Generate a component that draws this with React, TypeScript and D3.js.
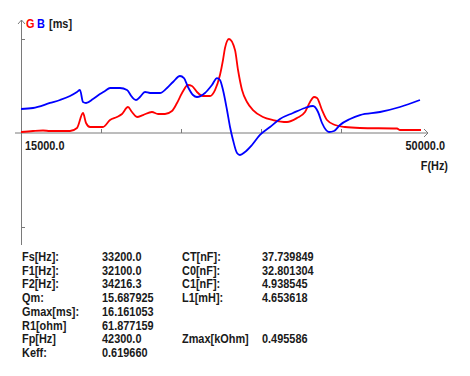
import React from "react";
import * as d3 from "d3";

const redFreq = [15000,16050,16925,17540,19290,19900,20425,20690,21040,22175,22790,23400,23840,24360,24710,25150,25675,26460,26990,27600,28210,28650,29090,29610,29960,30400,30925,31540,31975,32410,32675,32850,33200,33725,33990,34340,34775,35300,36175,37050,38275,39150,39850,40290,40640,40900,41340,41775,42475,43350,44660,47900,48160,50000];
const redG = [0.17,0.34,0.43,0.34,0.34,0.86,3.44,1.72,1.03,1.03,2.23,2.75,3.27,4.47,3.61,2.75,3.09,3.61,3.27,3.27,3.78,5.16,6.88,8.25,8.08,7.05,6.36,6.36,7.39,9.97,12.55,14.61,16.16,14.27,10.83,7.39,5.33,3.95,2.75,2.23,1.89,2.58,3.61,5.33,6.19,6.02,3.95,2.23,1.38,1.03,0.86,0.77,0.52,0.52];

const blueFreq = [15000,16050,17540,18410,19290,19900,20160,20425,20690,21300,21910,22350,22790,23660,24275,24710,25060,25410,25850,26290,27160,27775,28300,28910,29260,29610,30050,30400,31100,31710,32150,32410,32675,33025,33290,33550,33900,34160,34600,35210,35910,36790,37660,38800,39850,40550,40990,41340,41690,41950,42390,42910,43790,44660,46410,48160,49910];
const blueB = [4.13,4.30,5.16,5.67,6.36,7.05,7.39,5.33,5.16,5.84,6.70,7.22,7.74,7.74,7.39,6.19,5.67,6.19,7.05,6.88,6.88,7.74,8.77,9.80,9.45,7.91,6.53,6.19,6.88,8.25,9.45,9.11,7.39,3.95,1.03,-1.20,-3.44,-3.78,-3.27,-2.06,-0.34,1.03,2.41,3.44,4.30,4.64,3.61,1.72,0.52,0.17,0.34,1.38,2.41,3.09,3.61,4.47,5.67];

const xTicks = [22000, 29000, 36000, 43000];
const yTicks = [16.16, -16.16];
const xMinLabel = "15000.0";
const xMaxLabel = "50000.0";

const paramLabels1 = ["Fs[Hz]:", "F1[Hz]:", "F2[Hz]:", "Qm:", "Gmax[ms]:", "R1[ohm]", "Fp[Hz]", "Keff:"];
const paramValues1 = ["33200.0", "32100.0", "34216.3", "15.687925", "16.161053", "61.877159", "42300.0", "0.619660"];
const paramLabels2 = ["CT[nF]:", "C0[nF]:", "C1[nF]:", "L1[mH]:", "", "", "Zmax[kOhm]", ""];
const paramValues2 = ["37.739849", "32.801304", "4.938545", "4.653618", "", "", "0.495586", ""];

const FONT = "'Liberation Sans', Arial, sans-serif";

function T({ x, y, children, fill = "#1a1a1a", anchor = "start" as any }) {
  return (
    <text
      transform={`translate(${x},${y}) scale(0.84,1)`}
      fontFamily={FONT}
      fontSize={13}
      fontWeight="bold"
      fill={fill}
      textAnchor={anchor}
    >
      {children}
    </text>
  );
}

export default function App() {
  const x = d3.scaleLinear().domain([15000, 50000]).range([21, 421]);
  const y = d3.scaleLinear().domain([-16.16, 16.16]).range([227, 39]);
  const line = d3
    .line<[number, number]>()
    .x((d) => x(d[0]))
    .y((d) => y(d[1]))
    .curve(d3.curveMonotoneX);
  const redPath = line(redFreq.map((f, i) => [f, redG[i]]) as [number, number][]) || "";
  const bluePath = line(blueFreq.map((f, i) => [f, blueB[i]]) as [number, number][]) || "";
  const y0 = y(0);
  const axisColor = "#7a7a7a";
  const rowY = (i: number) => 261 + i * 13.7;

  return (
    <svg width={470} height={376} style={{ position: "absolute", left: 0, top: 0, background: "#fff" }}>
      {/* axes */}
      <line x1={15} y1={y0} x2={428} y2={y0} stroke={axisColor} strokeWidth={1} />
      <polyline points={`424,${y0 - 4} 428,${y0} 424,${y0 + 4}`} fill="none" stroke={axisColor} strokeWidth={1} />
      <line x1={21.5} y1={20} x2={21.5} y2={245} stroke={axisColor} strokeWidth={1} />
      <polyline points={`18,24 21.5,20 25,24`} fill="none" stroke={axisColor} strokeWidth={1} />
      {xTicks.map((t) => (
        <line key={t} x1={Math.round(x(t)) + 0.5} x2={Math.round(x(t)) + 0.5} y1={y0 - 4} y2={y0} stroke={axisColor} />
      ))}
      {yTicks.map((t) => (
        <line key={t} x1={21} x2={25} y1={Math.round(y(t)) + 0.5} y2={Math.round(y(t)) + 0.5} stroke={axisColor} />
      ))}

      {/* curves */}
      <path d={redPath} fill="none" stroke="#ff0000" strokeWidth={1.8} strokeLinejoin="round" />
      <path d={bluePath} fill="none" stroke="#0000ff" strokeWidth={1.8} strokeLinejoin="round" />

      {/* header */}
      <T x={26} y={28} fill="#ff0000">G</T>
      <T x={37} y={28} fill="#0000ff">B</T>
      <T x={49} y={28}>[ms]</T>

      {/* axis labels */}
      <T x={445} y={150} anchor="end">{xMaxLabel}</T>
      <T x={25} y={150}>{xMinLabel}</T>
      <T x={448} y={170} anchor="end">F(Hz)</T>

      {/* parameter table */}
      {paramLabels1.map((l, i) => (
        <T key={"l1" + i} x={22} y={rowY(i)}>{l}</T>
      ))}
      {paramValues1.map((v, i) => (
        <T key={"v1" + i} x={102} y={rowY(i)}>{v}</T>
      ))}
      {paramLabels2.map((l, i) =>
        l ? <T key={"l2" + i} x={182} y={rowY(i)}>{l}</T> : null
      )}
      {paramValues2.map((v, i) =>
        v ? <T key={"v2" + i} x={262} y={rowY(i)}>{v}</T> : null
      )}
    </svg>
  );
}
